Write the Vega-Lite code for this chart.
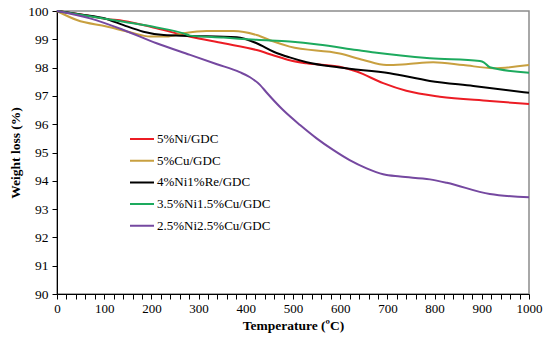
{
"$schema": "https://vega.github.io/schema/vega-lite/v6.json",
"width": 472, "height": 283,
"autosize": {"type": "none"},
"padding": {"left": 57, "top": 11, "right": 21, "bottom": 45},
"background": "white",
"config": {"view": {"stroke": "#8c8c8c", "strokeWidth": 1.5}, "font": "Liberation Serif"},
"data": {"values": [
{"s":"5%Ni/GDC","t":0,"w":100},{"s":"5%Ni/GDC","t":50,"w":99.88},{"s":"5%Ni/GDC","t":105,"w":99.72},{"s":"5%Ni/GDC","t":141,"w":99.65},{"s":"5%Ni/GDC","t":211,"w":99.39},{"s":"5%Ni/GDC","t":282,"w":99.09},{"s":"5%Ni/GDC","t":353,"w":98.86},{"s":"5%Ni/GDC","t":423,"w":98.62},{"s":"5%Ni/GDC","t":461,"w":98.42},{"s":"5%Ni/GDC","t":493,"w":98.26},{"s":"5%Ni/GDC","t":529,"w":98.15},{"s":"5%Ni/GDC","t":599,"w":98.03},{"s":"5%Ni/GDC","t":635,"w":97.86},{"s":"5%Ni/GDC","t":691,"w":97.45},{"s":"5%Ni/GDC","t":740,"w":97.18},{"s":"5%Ni/GDC","t":811,"w":96.97},{"s":"5%Ni/GDC","t":917,"w":96.82},{"s":"5%Ni/GDC","t":1000,"w":96.71},
{"s":"5%Cu/GDC","t":0,"w":100},{"s":"5%Cu/GDC","t":42,"w":99.68},{"s":"5%Cu/GDC","t":105,"w":99.45},{"s":"5%Cu/GDC","t":155,"w":99.25},{"s":"5%Cu/GDC","t":197,"w":99.1},{"s":"5%Cu/GDC","t":232,"w":99.1},{"s":"5%Cu/GDC","t":268,"w":99.21},{"s":"5%Cu/GDC","t":317,"w":99.29},{"s":"5%Cu/GDC","t":374,"w":99.29},{"s":"5%Cu/GDC","t":423,"w":99.15},{"s":"5%Cu/GDC","t":459,"w":98.92},{"s":"5%Cu/GDC","t":493,"w":98.74},{"s":"5%Cu/GDC","t":599,"w":98.5},{"s":"5%Cu/GDC","t":649,"w":98.27},{"s":"5%Cu/GDC","t":698,"w":98.09},{"s":"5%Cu/GDC","t":740,"w":98.12},{"s":"5%Cu/GDC","t":797,"w":98.19},{"s":"5%Cu/GDC","t":861,"w":98.09},{"s":"5%Cu/GDC","t":924,"w":97.98},{"s":"5%Cu/GDC","t":1000,"w":98.09},
{"s":"4%Ni1%Re/GDC","t":0,"w":100},{"s":"4%Ni1%Re/GDC","t":50,"w":99.88},{"s":"4%Ni1%Re/GDC","t":105,"w":99.72},{"s":"4%Ni1%Re/GDC","t":141,"w":99.5},{"s":"4%Ni1%Re/GDC","t":183,"w":99.27},{"s":"4%Ni1%Re/GDC","t":226,"w":99.15},{"s":"4%Ni1%Re/GDC","t":282,"w":99.12},{"s":"4%Ni1%Re/GDC","t":381,"w":99.07},{"s":"4%Ni1%Re/GDC","t":423,"w":98.86},{"s":"4%Ni1%Re/GDC","t":459,"w":98.56},{"s":"4%Ni1%Re/GDC","t":493,"w":98.36},{"s":"4%Ni1%Re/GDC","t":529,"w":98.19},{"s":"4%Ni1%Re/GDC","t":599,"w":98.0},{"s":"4%Ni1%Re/GDC","t":705,"w":97.8},{"s":"4%Ni1%Re/GDC","t":790,"w":97.53},{"s":"4%Ni1%Re/GDC","t":882,"w":97.35},{"s":"4%Ni1%Re/GDC","t":1000,"w":97.11},
{"s":"3.5%Ni1.5%Cu/GDC","t":0,"w":100},{"s":"3.5%Ni1.5%Cu/GDC","t":141,"w":99.62},{"s":"3.5%Ni1.5%Cu/GDC","t":211,"w":99.42},{"s":"3.5%Ni1.5%Cu/GDC","t":268,"w":99.21},{"s":"3.5%Ni1.5%Cu/GDC","t":282,"w":99.13},{"s":"3.5%Ni1.5%Cu/GDC","t":353,"w":99.06},{"s":"3.5%Ni1.5%Cu/GDC","t":423,"w":98.98},{"s":"3.5%Ni1.5%Cu/GDC","t":493,"w":98.92},{"s":"3.5%Ni1.5%Cu/GDC","t":553,"w":98.82},{"s":"3.5%Ni1.5%Cu/GDC","t":635,"w":98.62},{"s":"3.5%Ni1.5%Cu/GDC","t":673,"w":98.53},{"s":"3.5%Ni1.5%Cu/GDC","t":790,"w":98.33},{"s":"3.5%Ni1.5%Cu/GDC","t":896,"w":98.23},{"s":"3.5%Ni1.5%Cu/GDC","t":905,"w":98.18},{"s":"3.5%Ni1.5%Cu/GDC","t":917,"w":98.01},{"s":"3.5%Ni1.5%Cu/GDC","t":1000,"w":97.82},
{"s":"2.5%Ni2.5%Cu/GDC","t":0,"w":100},{"s":"2.5%Ni2.5%Cu/GDC","t":70,"w":99.74},{"s":"2.5%Ni2.5%Cu/GDC","t":141,"w":99.33},{"s":"2.5%Ni2.5%Cu/GDC","t":211,"w":98.86},{"s":"2.5%Ni2.5%Cu/GDC","t":282,"w":98.45},{"s":"2.5%Ni2.5%Cu/GDC","t":339,"w":98.12},{"s":"2.5%Ni2.5%Cu/GDC","t":387,"w":97.84},{"s":"2.5%Ni2.5%Cu/GDC","t":409,"w":97.66},{"s":"2.5%Ni2.5%Cu/GDC","t":430,"w":97.39},{"s":"2.5%Ni2.5%Cu/GDC","t":444,"w":97.12},{"s":"2.5%Ni2.5%Cu/GDC","t":479,"w":96.5},{"s":"2.5%Ni2.5%Cu/GDC","t":515,"w":95.97},{"s":"2.5%Ni2.5%Cu/GDC","t":550,"w":95.5},{"s":"2.5%Ni2.5%Cu/GDC","t":585,"w":95.09},{"s":"2.5%Ni2.5%Cu/GDC","t":620,"w":94.73},{"s":"2.5%Ni2.5%Cu/GDC","t":656,"w":94.44},{"s":"2.5%Ni2.5%Cu/GDC","t":691,"w":94.23},{"s":"2.5%Ni2.5%Cu/GDC","t":727,"w":94.15},{"s":"2.5%Ni2.5%Cu/GDC","t":790,"w":94.05},{"s":"2.5%Ni2.5%Cu/GDC","t":826,"w":93.93},{"s":"2.5%Ni2.5%Cu/GDC","t":917,"w":93.53},{"s":"2.5%Ni2.5%Cu/GDC","t":1000,"w":93.42}
]},
"mark": {"type": "line", "interpolate": "monotone", "strokeWidth": 2},
"encoding": {
"x": {"field": "t", "type": "quantitative", "scale": {"domain": [0, 1000], "nice": false},
 "axis": {"title": "Temperature (ºC)", "format": "d", "values": [0,20,40,60,80,100,120,140,160,180,200,220,240,260,280,300,320,340,360,380,400,420,440,460,480,500,520,540,560,580,600,620,640,660,680,700,720,740,760,780,800,820,840,860,880,900,920,940,960,980,1000],
  "labelExpr": "datum.value % 100 === 0 ? datum.label : ''", "labelOverlap": false, "labelFlush": false, "grid": false,
  "domainColor": "#000", "tickColor": "#000", "tickSize": 5, "labelFont": "Liberation Serif", "labelFontSize": 13, "labelColor": "#000", "labelPadding": 3,
  "titleFont": "Liberation Serif", "titleFontSize": 13.5, "titleFontWeight": "bold", "titleColor": "#000", "titlePadding": 3}},
"y": {"field": "w", "type": "quantitative", "scale": {"domain": [90, 100], "nice": false, "zero": false},
 "axis": {"title": "Weight loss (%)", "format": "d", "values": [90,91,92,93,94,95,96,97,98,99,100], "grid": false, "labelFlush": false,
  "domainColor": "#000", "tickColor": "#000", "tickSize": 5, "labelFont": "Liberation Serif", "labelFontSize": 13.5, "labelColor": "#000", "labelPadding": 4,
  "titleFont": "Liberation Serif", "titleFontSize": 13.5, "titleFontWeight": "bold", "titleColor": "#000", "titlePadding": 5}},
"color": {"field": "s", "type": "nominal",
 "scale": {"domain": ["5%Ni/GDC","5%Cu/GDC","4%Ni1%Re/GDC","3.5%Ni1.5%Cu/GDC","2.5%Ni2.5%Cu/GDC"], "range": ["#ec1c24","#c8a040","#000000","#1daa5e","#7548a0"]},
 "legend": {"title": null, "orient": "none", "legendX": 72, "legendY": 120, "symbolType": "stroke", "symbolSize": 576, "symbolStrokeWidth": 2,
  "labelFont": "Liberation Serif", "labelFontSize": 13, "labelColor": "#000", "labelOffset": 2, "clipHeight": 16, "rowPadding": 5.7}}
}
}
